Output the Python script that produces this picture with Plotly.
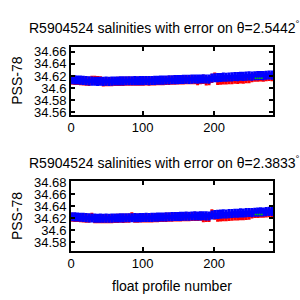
import plotly.graph_objects as go

# profile numbers (sampled every 4 profiles)
profiles = list(range(1, 282, 4))

# top panel: theta = 2.5442
top_cal = [34.6138, 34.6135, 34.6132, 34.6130, 34.6127, 34.6122, 34.6118, 34.6115, 34.6112, 34.6110,
           34.6112, 34.6110, 34.6113, 34.6111, 34.6114, 34.6116, 34.6117, 34.6119, 34.6118, 34.6120,
           34.6121, 34.6120, 34.6122, 34.6121, 34.6123, 34.6122, 34.6124, 34.6123, 34.6125, 34.6127,
           34.6128, 34.6130, 34.6131, 34.6133, 34.6135, 34.6136, 34.6138, 34.6140, 34.6141, 34.6143,
           34.6145, 34.6144, 34.6147, 34.6149, 34.6148, 34.6150, 34.6152, 34.6150, 34.6148, 34.6165,
           34.6170, 34.6172, 34.6175, 34.6180, 34.6178, 34.6183, 34.6185, 34.6190, 34.6188, 34.6195,
           34.6192, 34.6198, 34.6200, 34.6197, 34.6203, 34.6205, 34.6208, 34.6206, 34.6212, 34.6215,
           34.6213]
top_raw = [34.6130, 34.6127, 34.6124, 34.6122, 34.6119, 34.6114, 34.6110, 34.6128, 34.6126, 34.6124,
           34.6120, 34.6102, 34.6105, 34.6103, 34.6106, 34.6108, 34.6109, 34.6111, 34.6110, 34.6112,
           34.6113, 34.6112, 34.6114, 34.6113, 34.6115, 34.6114, 34.6116, 34.6115, 34.6117, 34.6119,
           34.6120, 34.6122, 34.6123, 34.6125, 34.6127, 34.6128, 34.6130, 34.6132, 34.6133, 34.6135,
           34.6137, 34.6136, 34.6139, 34.6140, 34.6122, 34.6140, 34.6142, 34.6118, 34.6120, 34.6160,
           34.6180, 34.6127, 34.6130, 34.6135, 34.6133, 34.6138, 34.6140, 34.6145, 34.6143, 34.6150,
           34.6147, 34.6153, 34.6155, 34.6172, 34.6178, 34.6180, 34.6183, 34.6181, 34.6187, 34.6190,
           34.6188]

# bottom panel: theta = 2.3833
bot_cal = [34.6222, 34.6220, 34.6218, 34.6215, 34.6212, 34.6208, 34.6205, 34.6202, 34.6200, 34.6198,
           34.6199, 34.6197, 34.6199, 34.6198, 34.6200, 34.6202, 34.6203, 34.6205, 34.6204, 34.6206,
           34.6207, 34.6206, 34.6208, 34.6207, 34.6209, 34.6210, 34.6212, 34.6211, 34.6213, 34.6215,
           34.6216, 34.6218, 34.6219, 34.6221, 34.6222, 34.6224, 34.6226, 34.6228, 34.6229, 34.6231,
           34.6233, 34.6232, 34.6235, 34.6237, 34.6236, 34.6238, 34.6240, 34.6238, 34.6236, 34.6252,
           34.6258, 34.6262, 34.6266, 34.6270, 34.6268, 34.6274, 34.6277, 34.6282, 34.6280, 34.6287,
           34.6284, 34.6291, 34.6294, 34.6291, 34.6298, 34.6300, 34.6304, 34.6302, 34.6308, 34.6312,
           34.6310]
bot_raw = [34.6214, 34.6212, 34.6210, 34.6207, 34.6204, 34.6200, 34.6197, 34.6215, 34.6192, 34.6190,
           34.6191, 34.6189, 34.6191, 34.6190, 34.6192, 34.6194, 34.6195, 34.6197, 34.6196, 34.6198,
           34.6199, 34.6220, 34.6200, 34.6199, 34.6201, 34.6202, 34.6204, 34.6203, 34.6205, 34.6207,
           34.6208, 34.6210, 34.6211, 34.6213, 34.6214, 34.6216, 34.6218, 34.6220, 34.6221, 34.6223,
           34.6225, 34.6224, 34.6227, 34.6229, 34.6228, 34.6230, 34.6208, 34.6212, 34.6210, 34.6270,
           34.6250, 34.6217, 34.6221, 34.6225, 34.6223, 34.6229, 34.6232, 34.6237, 34.6235, 34.6242,
           34.6239, 34.6246, 34.6249, 34.6269, 34.6276, 34.6278, 34.6282, 34.6280, 34.6286, 34.6290,
           34.6288]

sal_err = 0.0055

green_profiles = [258, 261, 264, 267]
top_green = [34.6161, 34.6161, 34.6161, 34.6161]
bot_green = [34.6262, 34.6262, 34.6262, 34.6262]

top_ticks = [34.56, 34.58, 34.60, 34.62, 34.64, 34.66]
top_ticktext = ["34.56", "34.58", "34.6", "34.62", "34.64", "34.66"]
bot_ticks = [34.58, 34.60, 34.62, 34.64, 34.66, 34.68]
bot_ticktext = ["34.58", "34.6", "34.62", "34.64", "34.66", "34.68"]
x_ticks = [0, 100, 200]

FONT = "Liberation Sans, Arial, sans-serif"
FS = 14
TFS = 13

fig = go.Figure()


def add_panel(raw, cal, green, xa, ya):
    fig.add_trace(go.Scatter(
        x=profiles, y=raw, mode="markers", xaxis=xa, yaxis=ya,
        marker=dict(color="#ff0000", size=4, symbol="square"),
        error_y=dict(type="constant", value=sal_err, color="#ff0000", thickness=2.5, width=1.5),
        showlegend=False))
    fig.add_trace(go.Scatter(
        x=profiles, y=cal, mode="markers", xaxis=xa, yaxis=ya,
        marker=dict(color="#0000ff", size=4, symbol="square"),
        error_y=dict(type="constant", value=sal_err, color="#0000ff", thickness=2.5, width=1.5),
        showlegend=False))
    fig.add_trace(go.Scatter(
        x=green_profiles, y=green, mode="markers", xaxis=xa, yaxis=ya,
        marker=dict(color="#00cc00", size=1.5, symbol="square"),
        showlegend=False))


add_panel(top_raw, top_cal, top_green, "x", "y")
add_panel(bot_raw, bot_cal, bot_green, "x2", "y2")

axis_common = dict(showline=True, linecolor="black", linewidth=2, mirror="ticks",
                   ticks="inside", ticklen=4, tickwidth=2, tickcolor="black",
                   showgrid=False, zeroline=False,
                   tickfont=dict(family=FONT, size=TFS, color="black"))

fig.update_layout(
    width=300, height=300, margin=dict(l=0, r=0, t=0, b=0),
    paper_bgcolor="white", plot_bgcolor="white",
    xaxis=dict(domain=[68 / 300, 273 / 300], range=[0, 283], tickvals=x_ticks,
               anchor="y", **axis_common),
    yaxis=dict(domain=[1 - 112 / 300, 1 - 42 / 300], range=[34.5561, 34.6674],
               tickvals=top_ticks, ticktext=top_ticktext, anchor="x", **axis_common),
    xaxis2=dict(domain=[68 / 300, 273 / 300], range=[0, 283], tickvals=x_ticks,
                anchor="y2", **axis_common),
    yaxis2=dict(domain=[1 - 254 / 300, 1 - 181.7 / 300], range=[34.5656, 34.6810],
                tickvals=bot_ticks, ticktext=bot_ticktext, anchor="x2", **axis_common),
    annotations=[
        dict(text="R5904524 salinities with error on θ=2.5442<sup>°</sup>", x=163 / 300, y=1 - 21 / 300,
             xref="paper", yref="paper", showarrow=False, xanchor="center", yanchor="middle",
             font=dict(family=FONT, size=FS, color="black")),
        dict(text="R5904524 salinities with error on θ=2.3833<sup>°</sup>", x=163 / 300, y=1 - 161 / 300,
             xref="paper", yref="paper", showarrow=False, xanchor="center", yanchor="middle",
             font=dict(family=FONT, size=FS, color="black")),
        dict(text="PSS-78", x=13 / 300, y=1 - 77 / 300, xref="paper", yref="paper", showarrow=False,
             textangle=-90, xanchor="center", yanchor="middle",
             font=dict(family=FONT, size=FS, color="black")),
        dict(text="PSS-78", x=13 / 300, y=1 - 218 / 300, xref="paper", yref="paper", showarrow=False,
             textangle=-90, xanchor="center", yanchor="middle",
             font=dict(family=FONT, size=FS, color="black")),
        dict(text="float profile number", x=170.5 / 300, y=1 - 291 / 300, xref="paper", yref="paper",
             showarrow=False, xanchor="center", yanchor="middle",
             font=dict(family=FONT, size=FS, color="black")),
    ],
)

fig.write_html("out.html")
